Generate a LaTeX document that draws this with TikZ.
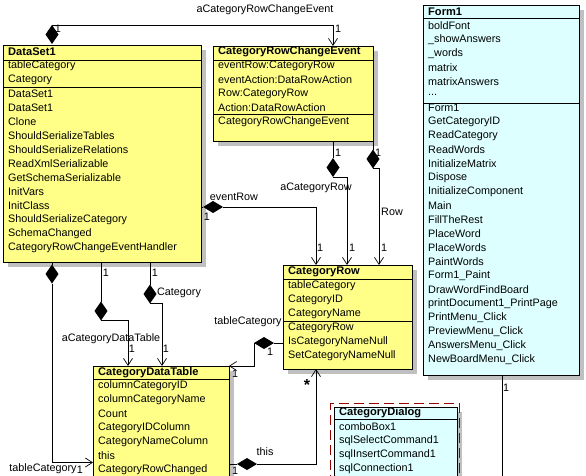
\documentclass[tikz,border=0pt]{standalone}
\usepackage{fontspec}
\setmainfont{Liberation Sans}
\usetikzlibrary{arrows.meta,shapes.geometric,shadows,calc}
\definecolor{umlyellow}{RGB}{255,255,136}
\definecolor{umlcyan}{RGB}{222,255,255}
\definecolor{shadowgray}{RGB}{192,192,192}
\definecolor{dashred}{RGB}{150,0,0}
\begin{document}
\begin{tikzpicture}[x=1pt,y=-1pt,
  font=\fontsize{10.8}{13}\selectfont,
  cls/.style={draw=black, line width=0.8pt, inner sep=0pt, outer sep=0pt, anchor=north west,
    drop shadow={shadow xshift=5pt, shadow yshift=-5pt, fill=shadowgray, opacity=1}},
  ttl/.style={anchor=west, inner sep=0pt, font=\fontsize{11.1}{13}\selectfont\bfseries},
  rowtxt/.style={anchor=west, inner sep=0pt},
  lbl/.style={inner sep=0pt},
  conn/.style={line width=0.7pt},
  arr/.style={conn, -{Straight Barb[length=7pt,width=9pt,line width=0.7pt]}},
  dv/.style={diamond, fill=black, draw=none, inner sep=0pt, outer sep=0pt, minimum width=13pt, minimum height=19pt},
  dh/.style={diamond, fill=black, draw=none, inner sep=0pt, outer sep=0pt, minimum width=20pt, minimum height=12pt},
  sep/.style={line width=0.8pt}
]
\useasboundingbox (0,0) rectangle (586,476);
\fill[white] (0,0) rectangle (586,476);
\clip (0,0) rectangle (586,476);

% ---------- DataSet1
\node[cls, fill=umlyellow, minimum width=198pt, minimum height=217pt] (ds) at (3,45) {};
\node[ttl] (ds-t) at (8,52) {DataSet1};
\draw[sep] (ds.west |- 0,60) -- (ds.east |- 0,60);
\draw[sep] (ds.west |- 0,87) -- (ds.east |- 0,87);
\foreach \t [count=\i] in {tableCategory,Category,DataSet1,DataSet1,Clone,ShouldSerializeTables,ShouldSerializeRelations,ReadXmlSerializable,GetSchemaSerializable,InitVars,InitClass,ShouldSerializeCategory,SchemaChanged,CategoryRowChangeEventHandler}
  \node[rowtxt] (ds-\i) at (8,{52+14*\i}) {\t};

% ---------- CategoryRowChangeEvent
\node[cls, fill=umlyellow, minimum width=160pt, minimum height=95pt] (crce) at (213,46) {};
\node[ttl] (crce-t) at (218,52) {CategoryRowChangeEvent};
\draw[sep] (crce.west |- 0,60) -- (crce.east |- 0,60);
\draw[sep] (crce.west |- 0,114.5) -- (crce.east |- 0,114.5);
\foreach \t [count=\i] in {eventRow:CategoryRow,eventAction:DataRowAction,Row:CategoryRow,Action:DataRowAction,CategoryRowChangeEvent}
  \node[rowtxt] (crce-\i) at (218,{52+14*\i}) {\t};

% ---------- Form1
\node[cls, fill=umlcyan, minimum width=156pt, minimum height=370pt] (form) at (423,5) {};
\node[ttl] (form-t) at (428,12) {Form1};
\draw[sep] (form.west |- 0,18.5) -- (form.east |- 0,18.5);
\foreach \t [count=\i] in {boldFont,\_showAnswers,\_words,matrix,matrixAnswers}
  \node[rowtxt] (form-a\i) at (428,{12+14*\i}) {\t};
\node[rowtxt, anchor=base west] (form-dots) at (428,96) {...};
\draw[sep] (form.west |- 0,103) -- (form.east |- 0,103);
\foreach \t [count=\i] in {Form1,GetCategoryID,ReadCategory,ReadWords,InitializeMatrix,Dispose,InitializeComponent,Main,FillTheRest,PlaceWord,PlaceWords,PaintWords,Form1\_Paint,DrawWordFindBoard,printDocument1\_PrintPage,PrintMenu\_Click,PreviewMenu\_Click,AnswersMenu\_Click,NewBoardMenu\_Click}
  \node[rowtxt] (form-m\i) at (428,{94+14*\i}) {\t};

% ---------- CategoryRow
\node[cls, fill=umlyellow, minimum width=129pt, minimum height=104pt] (crow) at (283,265) {};
\node[ttl] (crow-t) at (288,272) {CategoryRow};
\draw[sep] (crow.west |- 0,279) -- (crow.east |- 0,279);
\draw[sep] (crow.west |- 0,321) -- (crow.east |- 0,321);
\foreach \t [count=\i] in {tableCategory,CategoryID,CategoryName,CategoryRow,IsCategoryNameNull,SetCategoryNameNull}
  \node[rowtxt] (crow-\i) at (288,{272+14*\i}) {\t};

% ---------- CategoryDataTable
\node[cls, fill=umlyellow, minimum width=136pt, minimum height=140pt] (cdt) at (93,366) {};
\node[ttl] (cdt-t) at (98,372.5) {CategoryDataTable};
\draw[sep] (cdt.west |- 0,379.5) -- (cdt.east |- 0,379.5);
\foreach \t [count=\i] in {columnCategoryID,columnCategoryName,Count,CategoryIDColumn,CategoryNameColumn,this,CategoryRowChanged}
  \node[rowtxt] (cdt-\i) at (98,{372+14*\i}) {\t};

% ---------- CategoryDialog
\node[cls, fill=umlcyan, minimum width=123pt, minimum height=110pt] (cdlg) at (334,407) {};
\node[ttl] (cdlg-t) at (339,413) {CategoryDialog};
\draw[sep] (cdlg.west |- 0,419.5) -- (cdlg.east |- 0,419.5);
\foreach \t [count=\i] in {comboBox1,sqlSelectCommand1,sqlInsertCommand1,sqlConnection1}
  \node[rowtxt] (cdlg-\i) at (339,{413+14*\i}) {\t};
\draw[dashred, line width=0.9pt, dash pattern=on 10pt off 5pt] (330.5,500) -- (330.5,403) -- (459,403) -- (459,500);

% ---------- connectors
% DataSet1 -> CategoryRowChangeEvent
\node[dv] (d1) at (52,34.5) {};
\draw[arr] (d1.north) -| (crce.north -| 333,0);
\node[lbl] (l1) at (265,10) {aCategoryRowChangeEvent};
\node[lbl] (l1a) at (338,29) {1};
\node[lbl] (l1b) at (58,29) {1};

% CategoryRowChangeEvent -> CategoryRow (aCategoryRow)
\node[dv] (d2) at (333,167.5) {};
\draw[conn] (crce.south -| 333,0) -- (d2.north);
\draw[arr] (d2.south) -| (crow.north -| 347,0);
\node[lbl] (l2) at (316,188) {aCategoryRow};
\node[lbl] (l2a) at (338,153) {1};
\node[lbl] (l2b) at (352,248) {1};

% CategoryRowChangeEvent -> CategoryRow (Row)
\node[dv] (d3) at (373,159) {};
\draw[conn] (crce.south east) -- (d3.north);
\draw[arr] (d3.south) -| (crow.north -| 379,0);
\node[lbl] (l3) at (392,212) {Row};
\node[lbl] (l3a) at (378,153) {1};
\node[lbl] (l3b) at (384,248) {1};

% DataSet1 -> CategoryRow (eventRow)
\node[dh] (d4) at (213,207) {};
\draw[conn] (ds.east |- 0,207) -- (d4.west);
\draw[arr] (d4.east) -| (crow.north -| 316,0);
\node[lbl] (l4) at (234,197) {eventRow};
\node[lbl] (l4a) at (207,217) {1};
\node[lbl] (l4b) at (320,248) {1};

% DataSet1 -> CategoryDataTable (tableCategory)
\node[dv] (d5) at (52,274) {};
\draw[conn] (ds.south -| 52,0) -- (d5.north);
\draw[arr] (d5.south) |- (cdt.west |- 0,462.5);
\node[lbl] (l5) at (43,469) {tableCategory};
\node[lbl] (l5a) at (80,469.5) {1};

% DataSet1 -> CategoryDataTable (aCategoryDataTable)
\node[dv] (d6) at (101,311) {};
\draw[conn] (ds.south -| 101,0) -- (d6.north);
\draw[arr] (d6.south) -| (cdt.north -| 128,0);
\node[lbl] (l6) at (111,339) {aCategoryDataTable};
\node[lbl] (l6a) at (106,273) {1};
\node[lbl] (l6b) at (132,349) {1};

% DataSet1 -> CategoryDataTable (Category)
\node[dv] (d7) at (150,294) {};
\draw[conn] (ds.south -| 150,0) -- (d7.north);
\draw[arr] (d7.south) -| (cdt.north -| 162,0);
\node[lbl] (l7) at (179,293) {Category};
\node[lbl] (l7a) at (155,273) {1};
\node[lbl] (l7b) at (166,349) {1};

% CategoryRow -> CategoryDataTable (tableCategory)
\node[dh] (d8) at (264,343) {};
\draw[conn] (crow.west |- 0,343) -- (d8.east);
\draw[arr] (d8.west) |- (cdt.north east);
\node[lbl] (l8) at (248,322) {tableCategory};
\node[lbl] (l8a) at (270,352) {1};
\node[lbl] (l8b) at (235,374) {1};

% CategoryDataTable -> CategoryRow (this)
\node[dh] (d9) at (247,464) {};
\draw[conn] (cdt.east |- 0,464) -- (d9.west);
\draw[arr] (d9.east) -| (crow.south -| 316,0);
\node[lbl] (l9) at (265,452) {this};
\node[lbl, font=\fontsize{16}{16}\selectfont\bfseries] (l9a) at (307,385) {*};
\node[lbl] (l9b) at (235,471) {1};

% Form1 downwards
\coordinate (fend) at (502,480);
\draw[conn] (form.south -| 502,0) -- (fend);
\node[lbl] (l10) at (506,388) {1};
\end{tikzpicture}
\end{document}
